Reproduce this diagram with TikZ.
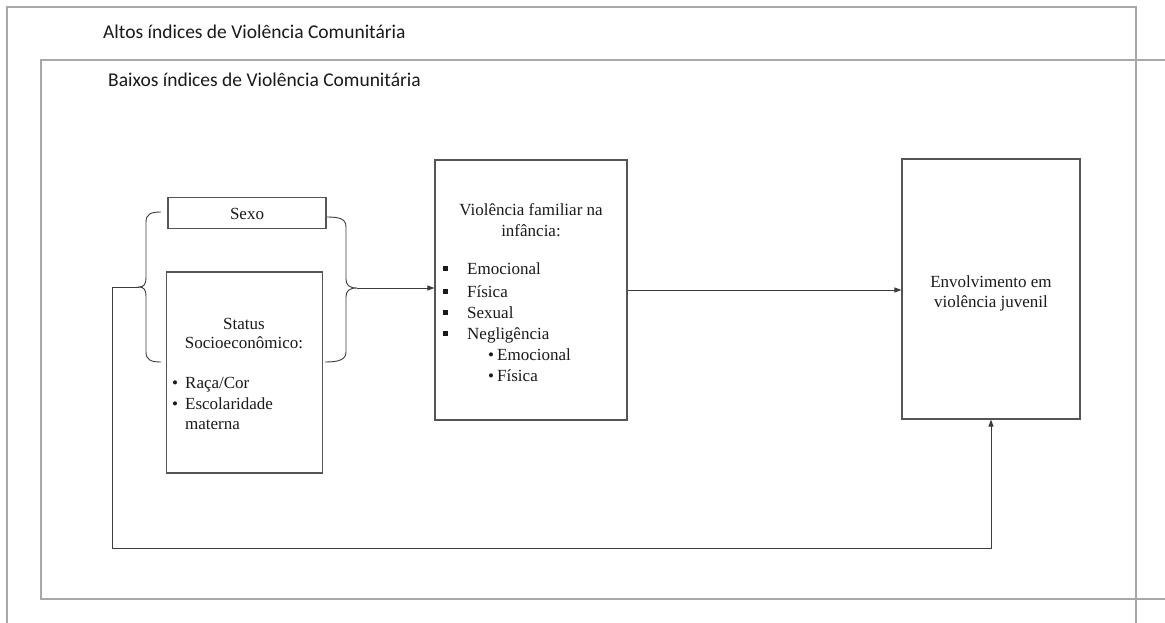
\documentclass[tikz,border=0pt]{standalone}
\usepackage{fontspec}
\setmainfont{Liberation Serif}
\newfontfamily\calfont{Carlito}
\usetikzlibrary{arrows.meta}
\definecolor{framegray}{HTML}{A8A8A8}
\definecolor{boxgray}{HTML}{555555}
\definecolor{txt}{HTML}{1A1A1A}
\begin{document}
\begin{tikzpicture}[x=1pt,y=-1pt,
  frame/.style={draw=framegray, line width=1.2pt},
  box/.style={draw=boxgray, line width=1.1pt, rectangle, inner sep=0pt},
  conn/.style={draw=boxgray!70!black, line width=0.9pt},
  arr/.style={conn, -{Triangle[length=7pt,width=5pt]}},
  ttext/.style={font=\fontsize{17}{20}\selectfont, text=txt, inner sep=0pt},
  stext/.style={font=\calfont\fontsize{19.5}{23}\selectfont, text=txt, inner sep=0pt}]
\useasboundingbox (0,0) rectangle (1165,623);
\fill[white] (0,0) rectangle (1165,623);

% frames
\draw[frame] (7,623) -- (7,7) -- (1136,7) -- (1136,623);
\draw[frame] (1165,60) -- (41,60) -- (41,599) -- (1165,599);
\node[stext, anchor=base west] (altos) at (103,39) {Altos índices de Violência Comunitária};
\node[stext, anchor=base west] (baixos) at (108,87) {Baixos índices de Violência Comunitária};

% boxes
\node[box, minimum width=158pt, minimum height=31pt] (sexo) at (247,213) {};
\node[ttext, anchor=base] (sexotxt) at (247,219) {Sexo};
\node[box, minimum width=156pt, minimum height=201pt] (status) at (244.5,372.5) {};
\node[box, minimum width=192pt, minimum height=260pt] (viol) at (531,290) {};
\node[box, minimum width=178pt, minimum height=260pt] (env) at (991,289) {};

% status text
\node[ttext, anchor=base] (st1) at (244,329) {Status};
\node[ttext, anchor=base] (st2) at (244,348) {Socioeconômico:};
\node[ttext, anchor=base west] (st3b) at (172,388) {•};
\node[ttext, anchor=base west] (st3) at (185,388) {Raça/Cor};
\node[ttext, anchor=base west] (st4b) at (172,409) {•};
\node[ttext, anchor=base west] (st4) at (185,409) {Escolaridade};
\node[ttext, anchor=base west] (st5) at (185,429) {materna};

% violencia text
\node[ttext, anchor=base] (v1) at (531,215) {Violência familiar na};
\node[ttext, anchor=base] (v2) at (531,236) {infância:};
\foreach \yy/\ww/\nm in {274/Emocional/va, 297/Física/vb, 318/Sexual/vc, 339/Negligência/vd}{
  \node[ttext, anchor=base west] (\nm) at (467,\yy) {\ww};
  \fill[txt] (443,\yy-8) rectangle ++(4.5,4.5);
}
\node[ttext, anchor=base west] (veb) at (488,360) {•};
\node[ttext, anchor=base west] (ve) at (497,360) {Emocional};
\node[ttext, anchor=base west] (vfb) at (488,381) {•};
\node[ttext, anchor=base west] (vf) at (497,381) {Física};

% envolvimento text
\node[ttext, anchor=base] (e1) at (991,287) {Envolvimento em};
\node[ttext, anchor=base] (e2) at (991,307) {violência juvenil};

% braces
\coordinate (lbtip) at (139,287);
\coordinate (rbtip) at (357,288);
\coordinate (fbcorner) at (112,548);
\draw[conn] (161,212) .. controls (151,212) and (146,214) .. (146,222)
  -- (146,278) .. controls (146,284) and (144,287) .. (lbtip)
  .. controls (144,287) and (146,290) .. (146,296)
  -- (146,352) .. controls (146,360) and (151,362) .. (161,362);
\draw[conn] (327,217) .. controls (340,217) and (346,219) .. (346,227)
  -- (346,279) .. controls (346,285) and (349,288) .. (rbtip)
  .. controls (349,288) and (346,291) .. (346,297)
  -- (346,352) .. controls (346,360) and (338,362) .. (325,362);

% connectors
\draw[arr] (rbtip) -- (rbtip -| viol.west);
\draw[arr] (viol.east) -- (viol.east -| env.west);
\draw[arr] (lbtip) -- (lbtip -| fbcorner) -- (fbcorner) -| (env.south);
\end{tikzpicture}
\end{document}
